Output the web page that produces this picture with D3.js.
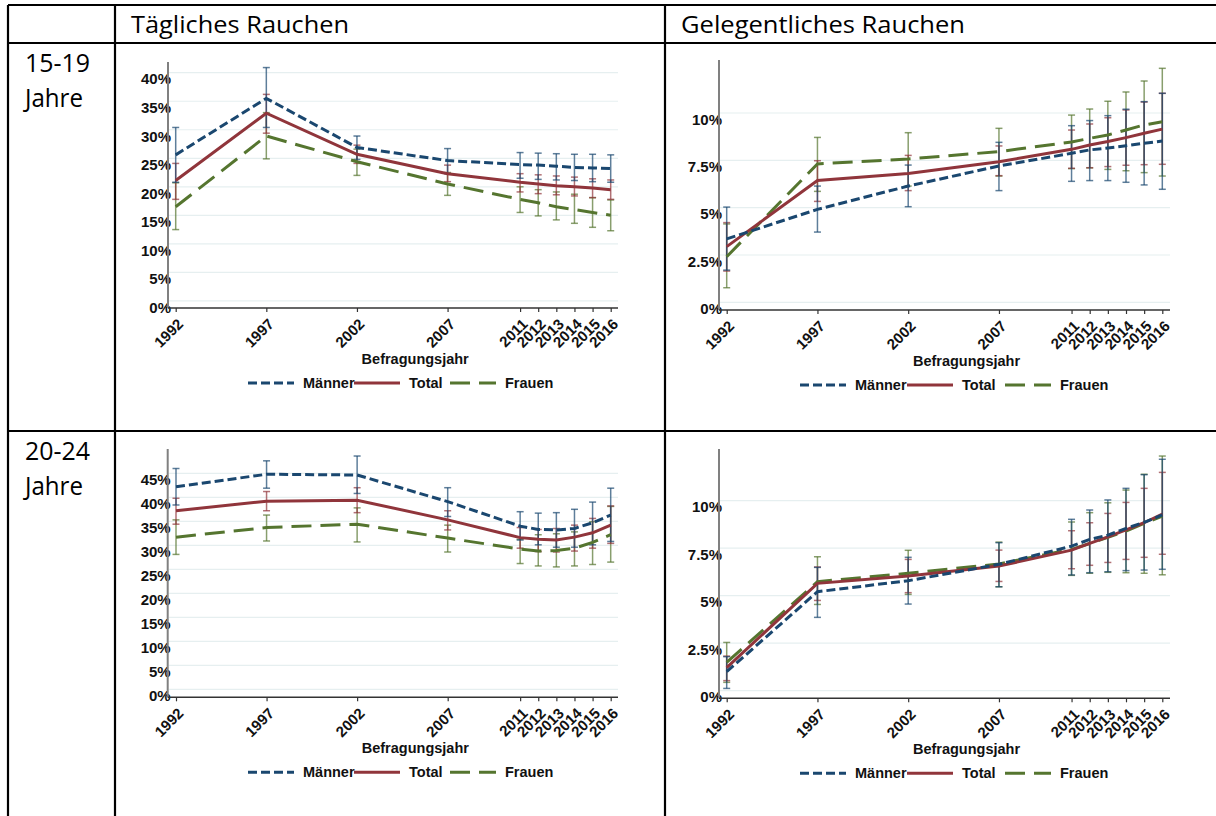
<!DOCTYPE html>
<html>
<head>
<meta charset="utf-8">
<script src="https://cdn.jsdelivr.net/npm/d3@7"></script>
<style>
  html, body { margin: 0; padding: 0; background: #fff; }
  svg { display: block; }
</style>
</head>
<body>
<svg id="chart" width="1216" height="816"></svg>
<script>
// Survey years shown on every x axis
const years = [1992, 1997, 2002, 2007, 2011, 2012, 2013, 2014, 2015, 2016];
const seriesNames = ["Männer", "Total", "Frauen"];
const columnTitles = ["Tägliches Rauchen", "Gelegentliches Rauchen"];
const rowTitles = [["15-19", "Jahre"], ["20-24", "Jahre"]];

// Daily smoking, 15-19 years (percent) with 95% confidence limits
const daily1519Men      = [25.6, 35.5, 26.9, 24.6, 23.9, 23.8, 23.6, 23.4, 23.3, 23.2];
const daily1519MenLo    = [20.8, 30.4, 24.8, 22.3, 21.5, 21.3, 21.2, 21.1, 20.9, 20.8];
const daily1519MenHi    = [30.4, 40.9, 28.9, 26.7, 26.0, 25.9, 25.8, 25.7, 25.7, 25.6];
const daily1519Total    = [21.1, 32.9, 25.7, 22.3, 20.8, 20.5, 20.2, 20.0, 19.8, 19.5];
const daily1519TotalLo  = [17.8, 29.4, 24.1, 20.9, 19.1, 18.8, 18.6, 18.4, 18.1, 17.8];
const daily1519TotalHi  = [24.1, 36.2, 27.3, 23.8, 22.3, 22.1, 21.9, 21.7, 21.4, 21.2];
const daily1519Women    = [16.5, 28.9, 24.4, 20.5, 17.8, 17.2, 16.5, 16.0, 15.5, 15.0];
const daily1519WomenLo  = [12.5, 24.9, 22.0, 18.5, 15.5, 14.9, 14.2, 13.6, 12.9, 12.3];
const daily1519WomenHi  = [20.7, 33.0, 26.6, 22.5, 20.0, 19.5, 19.1, 18.7, 18.1, 17.7];

// Occasional smoking, 15-19 years
const occ1519Men        = [3.35, 4.91, 6.14, 7.20, 7.87, 8.05, 8.15, 8.27, 8.40, 8.52];
const occ1519MenLo      = [1.70, 3.71, 5.05, 5.90, 6.39, 6.43, 6.43, 6.34, 6.20, 5.97];
const occ1519MenHi      = [5.03, 6.14, 7.25, 8.45, 9.33, 9.60, 9.86, 10.2, 10.6, 11.04];
const occ1519Total      = [2.94, 6.43, 6.81, 7.43, 8.08, 8.31, 8.49, 8.70, 8.93, 9.15];
const occ1519TotalLo    = [1.65, 5.33, 5.90, 6.69, 7.08, 7.11, 7.17, 7.24, 7.27, 7.29];
const occ1519TotalHi    = [4.21, 7.48, 7.76, 8.26, 9.10, 9.42, 9.75, 10.16, 10.58, 11.04];
const occ1519Women      = [2.41, 7.31, 7.57, 7.96, 8.47, 8.66, 8.84, 9.10, 9.37, 9.54];
const occ1519WomenLo    = [0.77, 5.86, 6.14, 6.67, 7.06, 7.10, 7.02, 6.95, 6.85, 6.67];
const occ1519WomenHi    = [4.14, 8.71, 8.96, 9.19, 9.89, 10.21, 10.62, 11.11, 11.69, 12.36];

// Daily smoking, 20-24 years
const daily2024Men      = [42.2, 44.8, 44.65, 39.1, 34.0, 33.3, 33.2, 33.5, 34.7, 36.3];
const daily2024MenLo    = [38.4, 41.9, 40.8, 36.0, 31.1, 30.1, 29.6, 29.6, 30.1, 30.8];
const daily2024MenHi    = [46.0, 47.6, 48.6, 42.0, 37.0, 36.7, 36.8, 37.5, 39.0, 41.9];
const daily2024Total    = [37.2, 39.2, 39.4, 35.3, 31.6, 31.25, 31.1, 31.7, 32.6, 34.2];
const daily2024TotalLo  = [34.4, 37.2, 36.8, 33.2, 29.4, 28.7, 28.6, 28.8, 29.4, 30.4];
const daily2024TotalHi  = [39.8, 41.2, 42.0, 37.2, 33.7, 33.3, 33.5, 34.2, 35.6, 38.2];
const daily2024Women    = [31.7, 33.7, 34.4, 31.5, 29.2, 28.8, 28.9, 29.4, 30.6, 32.2];
const daily2024WomenLo  = [28.1, 30.9, 30.7, 28.6, 26.2, 25.7, 25.5, 25.7, 26.0, 26.5];
const daily2024WomenHi  = [35.3, 36.3, 37.8, 34.2, 31.25, 32.2, 32.4, 32.8, 34.9, 38.1];

// Occasional smoking, 20-24 years
const occ2024Men        = [1.00, 5.21, 5.79, 6.65, 7.61, 7.96, 8.19, 8.54, 8.86, 9.25];
const occ2024MenLo      = [0.12, 3.86, 4.56, 5.47, 6.09, 6.21, 6.26, 6.32, 6.35, 6.39];
const occ2024MenHi      = [1.79, 6.49, 7.02, 7.79, 9.02, 9.51, 10.04, 10.65, 11.37, 12.18];
const occ2024Total      = [1.21, 5.65, 6.04, 6.56, 7.40, 7.75, 8.10, 8.46, 8.84, 9.30];
const occ2024TotalLo    = [0.53, 4.75, 5.16, 5.75, 6.42, 6.60, 6.75, 6.91, 7.02, 7.18];
const occ2024TotalHi    = [1.82, 6.51, 6.91, 7.40, 8.42, 8.84, 9.33, 9.91, 10.65, 11.49];
const occ2024Women      = [1.49, 5.74, 6.18, 6.67, 7.44, 7.75, 8.07, 8.40, 8.81, 9.19];
const occ2024WomenLo    = [0.44, 4.54, 5.07, 5.47, 6.07, 6.18, 6.23, 6.21, 6.18, 6.10];
const occ2024WomenHi    = [2.54, 7.05, 7.39, 7.82, 8.88, 9.37, 9.89, 10.56, 11.39, 12.35];

// Y tick values per panel type
const dailyTicks1519 = [0, 5, 10, 15, 20, 25, 30, 35, 40];
const dailyTicks2024 = [0, 5, 10, 15, 20, 25, 30, 35, 40, 45];
const occTicks = [0, 2.5, 5, 7.5, 10];

const colors = { "Männer": "#1a476f", "Total": "#90353b", "Frauen": "#55752f" };
const dashes = { "Männer": "9,4", "Total": null, "Frauen": "20,9" };

const svg = d3.select("#chart");
const FONT = "'Liberation Sans', Arial, sans-serif";

// ---- table frame ----
const frame = svg.append("g").attr("stroke", "#000").attr("stroke-width", 2.2);
[[8, 5, 1216, 5], [8, 43, 1216, 43], [8, 431, 1216, 431],
 [8, 5, 8, 816], [115, 5, 115, 816], [665, 5, 665, 816]].forEach(l =>
  frame.append("line").attr("x1", l[0]).attr("y1", l[1]).attr("x2", l[2]).attr("y2", l[3]));

const headFont = "'Open Sans', 'Noto Sans', sans-serif";
svg.append("text").attr("x", 131).attr("y", 33).attr("font-family", headFont)
  .attr("font-size", 23.5).attr("textLength", 218).attr("lengthAdjust", "spacingAndGlyphs")
  .text(columnTitles[0]);
svg.append("text").attr("x", 681).attr("y", 33).attr("font-family", headFont)
  .attr("font-size", 23.5).attr("textLength", 284).attr("lengthAdjust", "spacingAndGlyphs")
  .text(columnTitles[1]);
[[72, 107], [460, 495]].forEach((ys, i) => {
  svg.append("text").attr("x", 25).attr("y", ys[0]).attr("font-family", headFont)
    .attr("font-size", 25).attr("textLength", 65).attr("lengthAdjust", "spacingAndGlyphs")
    .text(rowTitles[i][0]);
  svg.append("text").attr("x", 25).attr("y", ys[1]).attr("font-family", headFont)
    .attr("font-size", 25).attr("textLength", 58).attr("lengthAdjust", "spacingAndGlyphs")
    .text(rowTitles[i][1]);
});

// ---- one panel: grid, axes, confidence intervals, estimate lines, legend ----
function panel(cfg) {
  const g = svg.append("g");
  const x = d3.scaleLinear().domain([1992, 2016]).range([cfg.x0, cfg.x1]);
  const y = d3.scaleLinear().domain([0, cfg.refVal]).range([cfg.y0, cfg.yRef]);

  // grid
  g.append("g").selectAll("line").data(cfg.ticks).join("line")
    .attr("x1", cfg.axisX + 1).attr("x2", cfg.axisRight)
    .attr("y1", d => y(d)).attr("y2", d => y(d))
    .attr("stroke", "#e6eff0").attr("stroke-width", 1.2);

  // y axis
  const yAxis = g.append("g").attr("transform", `translate(${cfg.axisX},0)`)
    .call(d3.axisLeft(y).tickValues(cfg.ticks).tickSize(0).tickPadding(0)
      .tickFormat(d => d3.format("~g")(d) + "%"));
  yAxis.select(".domain").remove();
  yAxis.selectAll("text").attr("font-family", FONT).attr("font-weight", "bold")
    .attr("font-size", 15).attr("fill", "#111").attr("x", 3).attr("dy", "0.75em");
  g.append("line").attr("x1", cfg.axisX).attr("x2", cfg.axisX)
    .attr("y1", cfg.axisTop).attr("y2", cfg.axisY).attr("stroke", "#808080").attr("stroke-width", 2);

  // x axis
  const xAxis = g.append("g").attr("transform", `translate(0,${cfg.axisY})`)
    .call(d3.axisBottom(x).tickValues(years).tickSize(4).tickFormat(d3.format("d")));
  xAxis.select(".domain").remove();
  xAxis.selectAll(".tick line").attr("stroke", "#333").attr("stroke-width", 1.2);
  xAxis.selectAll("text").attr("font-family", FONT).attr("font-weight", "bold")
    .attr("font-size", 15).attr("fill", "#111")
    .attr("text-anchor", "end").attr("dy", 0).attr("y", 0)
    .attr("transform", "translate(8,17) rotate(-45)");
  g.append("line").attr("x1", cfg.axisX).attr("x2", cfg.axisRight)
    .attr("y1", cfg.axisY).attr("y2", cfg.axisY).attr("stroke", "#333").attr("stroke-width", 1.5);

  g.append("text").attr("x", (cfg.x0 + cfg.x1) / 2 + 22).attr("y", cfg.axisY + 56)
    .attr("text-anchor", "middle").attr("font-family", FONT).attr("font-weight", "bold")
    .attr("font-size", 14.5).attr("fill", "#111").text("Befragungsjahr");

  // confidence intervals
  cfg.series.forEach(s => {
    const eb = g.append("g").attr("stroke", colors[s.name]).attr("stroke-opacity", 0.7)
      .attr("stroke-width", 1.5);
    years.forEach((yr, i) => {
      const cx = x(yr);
      eb.append("line").attr("x1", cx).attr("x2", cx).attr("y1", y(s.lo[i])).attr("y2", y(s.hi[i]));
      eb.append("line").attr("x1", cx - 3.5).attr("x2", cx + 3.5).attr("y1", y(s.lo[i])).attr("y2", y(s.lo[i]));
      eb.append("line").attr("x1", cx - 3.5).attr("x2", cx + 3.5).attr("y1", y(s.hi[i])).attr("y2", y(s.hi[i]));
    });
  });

  // estimate lines
  const line = d3.line().x((d, i) => x(years[i])).y(d => y(d));
  cfg.series.forEach(s => {
    g.append("path").datum(s.est).attr("d", line).attr("fill", "none")
      .attr("stroke", colors[s.name]).attr("stroke-width", 3)
      .attr("stroke-dasharray", dashes[s.name]);
  });

  // legend
  const ly = cfg.axisY + 75;
  seriesNames.forEach((nm, i) => {
    const lx = cfg.legendX[i];
    g.append("line").attr("x1", lx).attr("x2", lx + 46).attr("y1", ly).attr("y2", ly)
      .attr("stroke", colors[nm]).attr("stroke-width", 3).attr("stroke-dasharray", dashes[nm]);
    g.append("text").attr("x", lx + 55).attr("y", ly + 5).attr("font-family", FONT)
      .attr("font-weight", "bold").attr("font-size", 14.5).attr("fill", "#111").text(nm);
  });
}

function mk(est, lo, hi, name) { return { name, est, lo, hi }; }

panel({
  x0: 175.7, x1: 610.7, axisX: 168, axisRight: 618, axisY: 308, axisTop: 62,
  y0: 300.9, refVal: 40, yRef: 72.7, ticks: dailyTicks1519,
  legendX: [248, 354, 450],
  series: [mk(daily1519Women, daily1519WomenLo, daily1519WomenHi, "Frauen"),
           mk(daily1519Total, daily1519TotalLo, daily1519TotalHi, "Total"),
           mk(daily1519Men, daily1519MenLo, daily1519MenHi, "Männer")]
});
panel({
  x0: 726.7, x1: 1162.3, axisX: 719, axisRight: 1170, axisY: 310, axisTop: 60,
  y0: 302.3, refVal: 10, yRef: 113, ticks: occTicks,
  legendX: [800, 907, 1005],
  series: [mk(occ1519Women, occ1519WomenLo, occ1519WomenHi, "Frauen"),
           mk(occ1519Total, occ1519TotalLo, occ1519TotalHi, "Total"),
           mk(occ1519Men, occ1519MenLo, occ1519MenHi, "Männer")]
});
panel({
  x0: 176, x1: 610.7, axisX: 167.7, axisRight: 618, axisY: 697.3, axisTop: 449,
  y0: 689.3, refVal: 45, yRef: 473.3, ticks: dailyTicks2024,
  legendX: [248, 354, 450],
  series: [mk(daily2024Women, daily2024WomenLo, daily2024WomenHi, "Frauen"),
           mk(daily2024Total, daily2024TotalLo, daily2024TotalHi, "Total"),
           mk(daily2024Men, daily2024MenLo, daily2024MenHi, "Männer")]
});
panel({
  x0: 726.7, x1: 1162.3, axisX: 719, axisRight: 1170, axisY: 698.3, axisTop: 449,
  y0: 690.7, refVal: 10, yRef: 500.7, ticks: occTicks,
  legendX: [800, 907, 1005],
  series: [mk(occ2024Women, occ2024WomenLo, occ2024WomenHi, "Frauen"),
           mk(occ2024Total, occ2024TotalLo, occ2024TotalHi, "Total"),
           mk(occ2024Men, occ2024MenLo, occ2024MenHi, "Männer")]
});
</script>
</body>
</html>
